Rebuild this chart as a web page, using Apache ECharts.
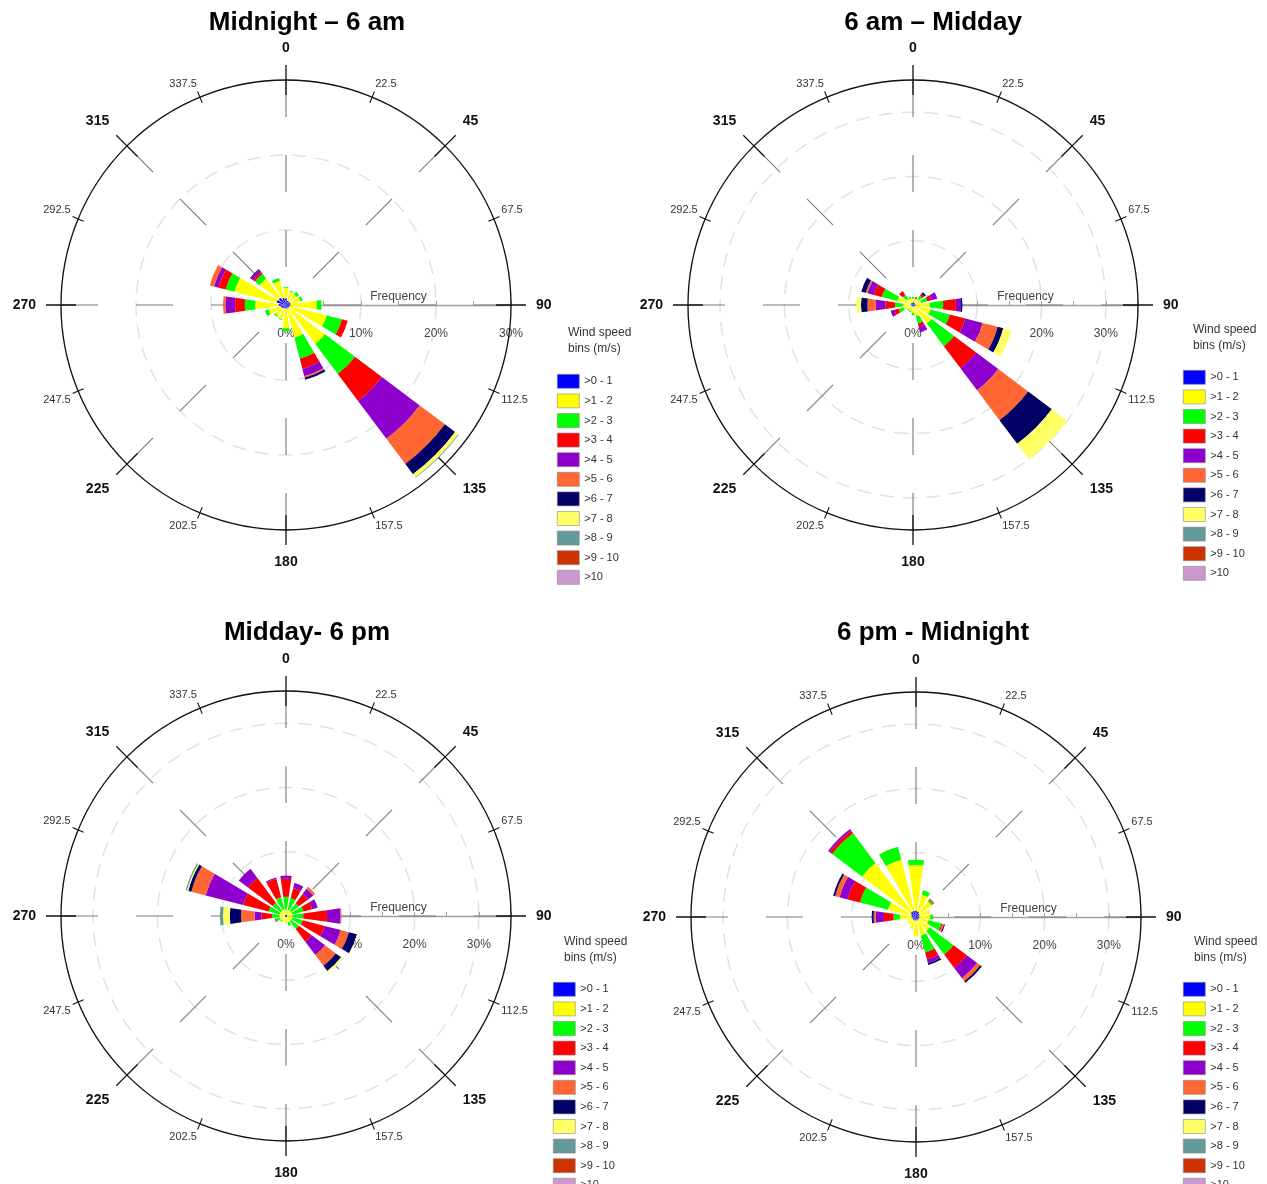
<!DOCTYPE html>
<html><head><meta charset="utf-8">
<script src="https://cdn.jsdelivr.net/npm/echarts/dist/echarts.min.js"></script>
<style>html,body{margin:0;padding:0;background:#fff}#c{width:1267px;height:1184px}</style>
</head><body><div id="c"></div>
<script>
// ---------------- DATA ----------------
const directions = ['0','22.5','45','67.5','90','112.5','135','157.5','180','202.5','225','247.5','270','292.5','315','337.5'];
const binNames = ['>0 - 1','>1 - 2','>2 - 3','>3 - 4','>4 - 5','>5 - 6','>6 - 7','>7 - 8','>8 - 9','>9 - 10','>10'];
const roseTitles = ['Midnight \u2013 6 am','6 am \u2013 Midday','Midday- 6 pm','6 pm - Midnight'];
const freqMidnight6am = [
  [0.9,0.6,0.6,0.6,0.6,0.5,0.5,0.5,0.5,0.5,0.6,0.7,1.0,1.3,1.2,1.0],
  [1.4,1.3,1.2,1.4,3.5,5.1,6.0,4.0,2.6,1.5,1.2,1.7,3.1,5.8,3.2,2.3],
  [0.1,0.1,0.4,0.3,0.65,2.1,5.0,2.9,0.4,0.1,0.2,0.5,1.4,1.2,0.8,0.4],
  [0,0,0,0,0,0.8,4.5,1.4,0,0,0,0,1.3,1.0,0.3,0],
  [0,0,0,0,0,0,6.3,1.0,0,0,0,0,1.3,0.6,0.4,0],
  [0,0,0,0,0,0,4.2,0.2,0,0,0,0,0.3,0.6,0,0],
  [0,0,0,0,0,0,1.7,0.3,0,0,0,0,0,0,0.1,0],
  [0,0,0,0,0,0,0.5,0,0,0,0,0,0,0,0,0],
  [0,0,0,0,0,0,0.1,0,0,0,0,0,0,0,0,0],
  [0,0,0,0,0,0,0,0,0,0,0,0,0,0,0,0],
  [0,0,0,0,0,0,0,0,0,0,0,0,0,0,0,0]
];
const freq6amMidday = [
  [0.4,0.4,0.4,0.4,0.4,0.3,0.3,0.3,0.3,0.3,0.3,0.3,0.4,0.4,0.4,0.4],
  [0.6,0.5,0.8,0.9,2.2,2.5,3.3,1.5,0.9,0.7,0.6,1.2,1.1,2.1,0.8,0.6],
  [0.3,0.2,0.6,1.0,2.1,3.1,4.4,1.2,0.4,0.2,0.2,0.8,1.3,2.5,0.8,0.3],
  [0,0.2,0.4,0.7,2.0,2.5,4.3,0.5,0,0,0,0.7,1.5,1.3,0.7,0],
  [0,0,0,0.9,0.8,2.8,4.3,0.9,0,0,0,0.6,1.5,1.0,0,0],
  [0,0,0,0,0,2.4,5.8,0,0,0,0,0,1.3,0.3,0,0],
  [0,0,0.3,0,0.2,0.9,4.6,0,0,0,0,0,1.0,0.7,0,0],
  [0,0,0,0,0,1.3,3.0,0,0,0,0,0,0.7,0,0,0],
  [0,0,0,0,0,0,0,0,0,0,0,0,0,0,0,0],
  [0,0,0,0,0,0,0,0,0,0,0,0,0,0,0,0],
  [0,0,0,0,0,0,0,0,0,0,0,0,0,0,0,0]
];
const freqMidday6pm = [
  [0.2,0.2,0.2,0.2,0.2,0.2,0.2,0.2,0.2,0.2,0.2,0.2,0.2,0.2,0.2,0.2],
  [0.8,0.8,0.8,0.8,0.8,0.8,0.8,0.8,1.0,0.8,0.7,0.8,0.8,0.8,0.8,0.8],
  [2.0,1.9,1.5,1.8,1.7,1.7,1.5,0.6,0,0,0.2,0.6,1.2,1.8,1.6,2.0],
  [2.8,1.6,1.8,1.4,3.7,3.5,2.5,0,0,0,0,0.2,1.6,4.1,4.8,3.0],
  [0.5,0.8,1.0,0.9,2.1,2.6,2.6,0,0,0,0,0,1.1,6.0,1.8,0.2],
  [0,0,0.4,0,0.1,1.3,2.1,0,0,0,0,0,2.1,2.3,0,0],
  [0,0,0,0,0,1.3,1.0,0,0,0,0,0,1.75,0.5,0,0],
  [0,0,0,0,0,0.1,0.3,0,0,0,0,0,1.05,0.2,0,0],
  [0,0,0,0,0,0,0,0,0,0,0,0,0.5,0.2,0,0],
  [0,0,0,0,0,0,0,0,0,0,0,0,0,0,0,0],
  [0,0,0,0,0.1,0,0,0,0,0,0,0,0,0,0,0]
];
const freq6pmMidnight = [
  [1.0,0.9,0.7,0.6,0.5,0.5,0.5,0.5,0.6,0.6,0.6,0.6,0.7,0.8,1.0,1.0],
  [7.1,2.7,2.3,1.7,1.7,1.5,2.2,2.5,2.4,1.4,0.9,0.9,1.8,3.7,9.5,8.2],
  [0.8,0.7,0.3,0,0.5,2.1,4.6,2.7,0,0,0,0,1.0,4.5,5.8,2.1],
  [0,0,0.15,0,0,0.2,2.6,1.1,0,0,0,0,1.5,2.0,0.5,0],
  [0,0,0,0,0,0,2.0,0.6,0,0,0,0,1.3,1.3,0.3,0],
  [0,0,0.15,0,0,0.2,0.6,0,0,0,0,0,0.3,0.7,0,0],
  [0,0,0,0,0,0.15,0.3,0.3,0,0,0,0,0.3,0.3,0,0],
  [0,0,0,0,0,0,0,0,0,0,0,0,0,0,0,0],
  [0,0,0,0,0,0,0,0,0,0,0,0,0,0,0,0],
  [0,0,0,0,0,0,0,0,0,0,0,0,0,0,0,0],
  [0,0,0,0,0,0,0,0,0,0,0,0,0,0,0,0]
];
const roseData = [freqMidnight6am, freq6amMidday, freqMidday6pm, freq6pmMidnight];
const radiusMax = [30, 35, 35, 35];

// ---------------- STYLE / LAYOUT ----------------
const binColors = ['#0000ff','#ffff00','#00ff00','#ff0000','#8e00cc','#ff6633','#000066','#ffff66','#669999','#cc3300','#cc99cc'];
const FONT = '"Liberation Sans", Arial, Helvetica, sans-serif';
const R = 225;
const layouts = [
  {c:[286,305], tx:307, ty:10,  lx:557,  ly:374, hx:568,  hy:325},
  {c:[913,305], tx:933, ty:10,  lx:1183, ly:370, hx:1193, hy:322},
  {c:[286,916], tx:307, ty:620, lx:553,  ly:982, hx:564,  hy:934},
  {c:[916,917], tx:933, ty:620, lx:1183, ly:982, hx:1194, hy:934}
];

const polar = [], angleAxis = [], radiusAxis = [], series = [], legend = [], title = [];
layouts.forEach((L, r) => {
  const base = r * 5;
  const max = radiusMax[r];
  for (let k = 0; k < 5; k++) polar.push({center: L.c, radius: [0, R]});

  // 0: radius axis (pointing east) + dashed rings
  angleAxis.push({polarIndex: base, type: 'value', min: 0, max: 360, startAngle: 0, show: false});
  radiusAxis.push({
    polarIndex: base, type: 'value', min: 0, max: max, interval: 10, z: 1,
    axisLine: {show: true, lineStyle: {color: '#a0a0a0', width: 1.3}},
    axisTick: {show: true, length: 4, lineStyle: {color: '#a0a0a0'}},
    minorTick: {show: true, splitNumber: 2, length: 4, lineStyle: {color: '#a0a0a0'}},
    axisLabel: {show: true, margin: -23, verticalAlign: 'top', color: '#444', fontSize: 12, fontFamily: FONT,
      formatter: v => v > 30 ? '' : v + '%'},
    splitLine: {show: true, lineStyle: {color: '#e2e2e2', width: 1.5, type: [14, 9]}},
    name: 'Frequency', nameLocation: 'middle', nameGap: -14,
    nameTextStyle: {color: '#444', fontSize: 12, fontFamily: FONT, verticalAlign: 'top'}
  });

  // 1: outer circle, major ticks outward, major labels, 8 direction lines
  angleAxis.push({
    polarIndex: base + 1, type: 'value', min: 0, max: 360, interval: 45, startAngle: 90, clockwise: true, z: 2,
    axisLine: {show: true, lineStyle: {color: '#111', width: 1.3}},
    axisTick: {show: true, length: 15, lineStyle: {color: '#111', width: 1.3}},
    minorTick: {show: true, splitNumber: 2, length: 6, lineStyle: {color: '#111', width: 1.1}},
    axisLabel: {show: true, margin: 25, fontSize: 14, fontWeight: 'bold', color: '#111', fontFamily: FONT,
      formatter: v => v >= 360 ? '' : String(v)},
    splitLine: {show: true, lineStyle: {color: '#7a7a7a', width: 1.1, type: [37, 38]}}
  });
  radiusAxis.push({polarIndex: base + 1, type: 'value', min: 0, max: max, show: false});

  // 2: ticks inward
  angleAxis.push({
    polarIndex: base + 2, type: 'value', min: 0, max: 360, interval: 45, startAngle: 90, clockwise: true, z: 2,
    axisLine: {show: false},
    axisTick: {show: true, inside: true, length: 15, lineStyle: {color: '#111', width: 1.3}},
    minorTick: {show: true, splitNumber: 2, length: 6, lineStyle: {color: '#111', width: 1.1}},
    axisLabel: {show: false},
    splitLine: {show: false}
  });
  radiusAxis.push({polarIndex: base + 2, type: 'value', min: 0, max: max, show: false});

  // 3: minor labels (22.5 steps)
  angleAxis.push({
    polarIndex: base + 3, type: 'value', min: 0, max: 360, interval: 22.5, startAngle: 90, clockwise: true,
    axisLine: {show: false}, axisTick: {show: false}, splitLine: {show: false},
    axisLabel: {show: true, margin: 8, fontSize: 11, color: '#333', fontFamily: FONT,
      formatter: v => (v % 45 === 0 || v >= 360) ? '' : String(v)}
  });
  radiusAxis.push({polarIndex: base + 3, type: 'value', min: 0, max: max, show: false});

  // 4: bars
  angleAxis.push({polarIndex: base + 4, type: 'category', data: directions, startAngle: 90 + 11.25, clockwise: true, show: false});
  radiusAxis.push({polarIndex: base + 4, type: 'value', min: 0, max: max, show: false});

  roseData[r].forEach((vals, b) => {
    series.push({
      type: 'bar', coordinateSystem: 'polar', polarIndex: base + 4,
      name: binNames[b], stack: 'rose' + r, data: vals,
      barCategoryGap: '28%', itemStyle: {color: binColors[b]},
      emphasis: {disabled: true}, z: 3
    });
  });

  legend.push({
    data: binNames, orient: 'vertical', left: L.lx, top: L.ly, height: 260,
    itemWidth: 22, itemHeight: 14, itemGap: 5, padding: 0, icon: 'rect', selectedMode: false,
    itemStyle: {borderColor: '#888', borderWidth: 0.6},
    textStyle: {fontSize: 11, color: '#333', fontFamily: FONT}
  });
  title.push({text: roseTitles[r], left: L.tx, top: L.ty, textAlign: 'center', padding: 0,
    textStyle: {fontSize: 26, fontWeight: 'bold', color: '#000', fontFamily: FONT}});
  title.push({text: 'Wind speed\nbins (m/s)', left: L.hx, top: L.hy, padding: 0,
    textStyle: {fontSize: 12, fontWeight: 'normal', color: '#333', lineHeight: 16, fontFamily: FONT}});
});

const chart = echarts.init(document.getElementById('c'), null, {renderer: 'canvas'});
chart.setOption({
  animation: false,
  backgroundColor: '#fff',
  title, polar, angleAxis, radiusAxis, legend, series
});
</script>
</body></html>
